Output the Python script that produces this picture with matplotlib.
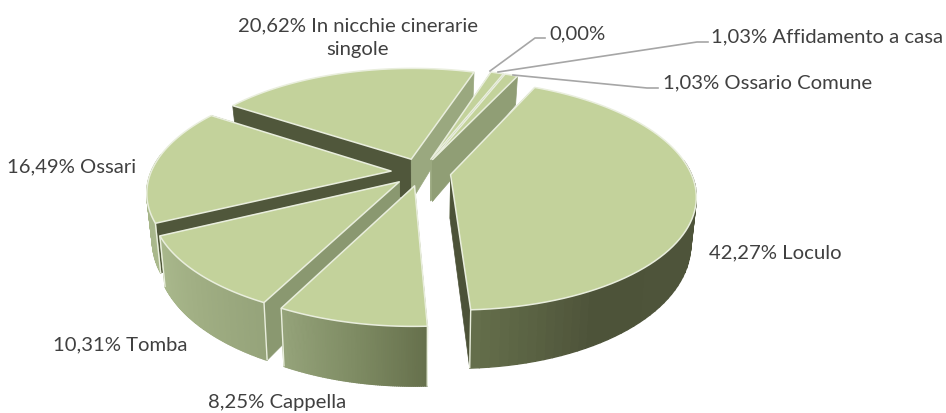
import numpy as np
import matplotlib
matplotlib.use("Agg")
import matplotlib.pyplot as plt
from matplotlib.collections import PolyCollection
from matplotlib.patches import Polygon

labels = ["Loculo", "Cappella", "Tomba", "Ossari", "In nicchie cinerarie\nsingole",
          "", "Affidamento a casa", "Ossario Comune"]
values = [42.27, 8.25, 10.31, 16.49, 20.62, 0.00, 1.03, 1.03]

# projection of the unit disc onto the picture (pixels)
CX, CY = 421, 173
A, B, P = 240, 110.7, 0.174
EXPLODE = 0.125
START = 25.1

TOP = "#c3d29b"
EDGE = "#e9eedd"
TEXT = "#404040"
LEADER = "#a6a6a6"

# wall shade by angle, clockwise from the back of the pie
shade_ang = [0, 90, 150, 177.5, 190.5, 206.5, 225.5, 245.5, 275.5, 360]
shade_col = np.array([matplotlib.colors.to_rgb(c) for c in
                      ["#4f553b", "#4f553b", "#4d5339", "#66704c", "#7d8a62",
                       "#95a37a", "#a0ae83", "#aab98d", "#a6b589", "#a6b589"]])

# shade of the two cut faces of each slice (start edge, end edge)
cut_shade = {0: ("#8f9d74", "#4c5238"), 1: ("#5f6845", "#8a9870"), 2: ("#8a9870", "#8a9870"),
             3: ("#50573b", "#50573b"), 4: ("#50573b", "#9aa87f"), 6: ("#9aa87f", "#9aa87f"),
             7: ("#909e75", "#909e75")}


def project(u, v):
    s = 1 + P * v
    return CX + A * u / s, CY - B * v / s


def drop(x, v):
    # point under the top surface, thicker towards the viewer
    return x + (CX - x) * 0.02, 43.5 - 14.5 * v


def wall_colour(ang):
    return [np.interp(ang, shade_ang, shade_col[:, i]) for i in range(3)]


fig = plt.figure(figsize=(9.46, 4.14), dpi=100)
ax = fig.add_axes([0, 0, 1, 1])
ax.set_xlim(0, 946)
ax.set_ylim(414, 0)
ax.axis("off")

fractions = np.array(values) / sum(values) * 360
starts = START + np.concatenate([[0], np.cumsum(fractions)[:-1]])
mids = starts + fractions / 2

# far slices first, so the near ones cover them
order = np.argsort(-np.cos(np.radians(mids)))
for i in order:
    if values[i] == 0:
        continue
    a = np.radians(np.linspace(starts[i], starts[i] + fractions[i], 80))
    m = np.radians(mids[i])
    ox, oy = EXPLODE * np.sin(m), EXPLODE * np.cos(m)
    u = np.sin(a) + ox
    v = np.cos(a) + oy
    x, y = project(u, v)
    ax_, ay_ = project(ox, oy)
    bx, dy = drop(x, v)
    by = y + dy
    abx, ady = drop(ax_, oy)
    aby = ay_ + ady

    # flat walls along both cuts
    ax.add_patch(Polygon([(ax_, ay_), (x[0], y[0]), (bx[0], by[0]), (abx, aby)],
                         fc=cut_shade[i][0], ec=cut_shade[i][0], lw=0.5))
    ax.add_patch(Polygon([(ax_, ay_), (x[-1], y[-1]), (bx[-1], by[-1]), (abx, aby)],
                         fc=cut_shade[i][1], ec=cut_shade[i][1], lw=0.5))

    # outer wall as a run of small strips for the gradient, back part is out of sight
    quads = [[(x[k], y[k]), (x[k + 1], y[k + 1]), (bx[k + 1], by[k + 1]), (bx[k], by[k])]
             for k in range(len(a) - 1) if np.cos(a[k]) < 0.15]
    cols = [wall_colour(np.degrees(a[k]) % 360) for k in range(len(a) - 1) if np.cos(a[k]) < 0.15]
    if quads:
        ax.add_collection(PolyCollection(quads, facecolors=cols, edgecolors=cols, linewidths=1))

    # light bevel on the front corners
    for k in (0, -1):
        if np.cos(a[k]) < -0.3:
            ax.plot([x[k], bx[k]], [y[k], by[k]], color=EDGE, lw=1, solid_capstyle="butt")

    top = [(ax_, ay_)] + list(zip(x, y))
    ax.add_patch(Polygon(top, closed=True, fc=TOP, ec=EDGE, lw=1.1, joinstyle="round"))

plt.rcParams["font.family"] = ["Lato", "DejaVu Sans"]
fs = 14.55
ax.text(358, 38, "20,62% In nicchie cinerarie\nsingole", ha="center", va="center", fontsize=fs,
        color=TEXT, linespacing=1.5)
ax.text(549, 34, "0,00%", va="center", fontsize=fs, color=TEXT)
ax.text(711, 37, "1,03% Affidamento a casa", va="center", fontsize=fs, color=TEXT)
ax.text(663, 83, "1,03% Ossario Comune", va="center", fontsize=fs, color=TEXT)
ax.text(709, 253, "42,27% Loculo", va="center", fontsize=fs, color=TEXT)
ax.text(7, 167, "16,49% Ossari", va="center", fontsize=fs, color=TEXT)
ax.text(53, 345, "10,31% Tomba", va="center", fontsize=fs, color=TEXT)
ax.text(208, 403, "8,25% Cappella", va="center", fontsize=fs, color=TEXT)

ax.plot([490, 535, 545], [72, 39, 39], color=LEADER, lw=1.2)
ax.plot([498, 697, 708], [73, 43, 43], color=LEADER, lw=1.2)
ax.plot([513, 647, 658], [76, 89, 89], color=LEADER, lw=1.2)

fig.savefig("out.png", dpi=100, facecolor="white")
